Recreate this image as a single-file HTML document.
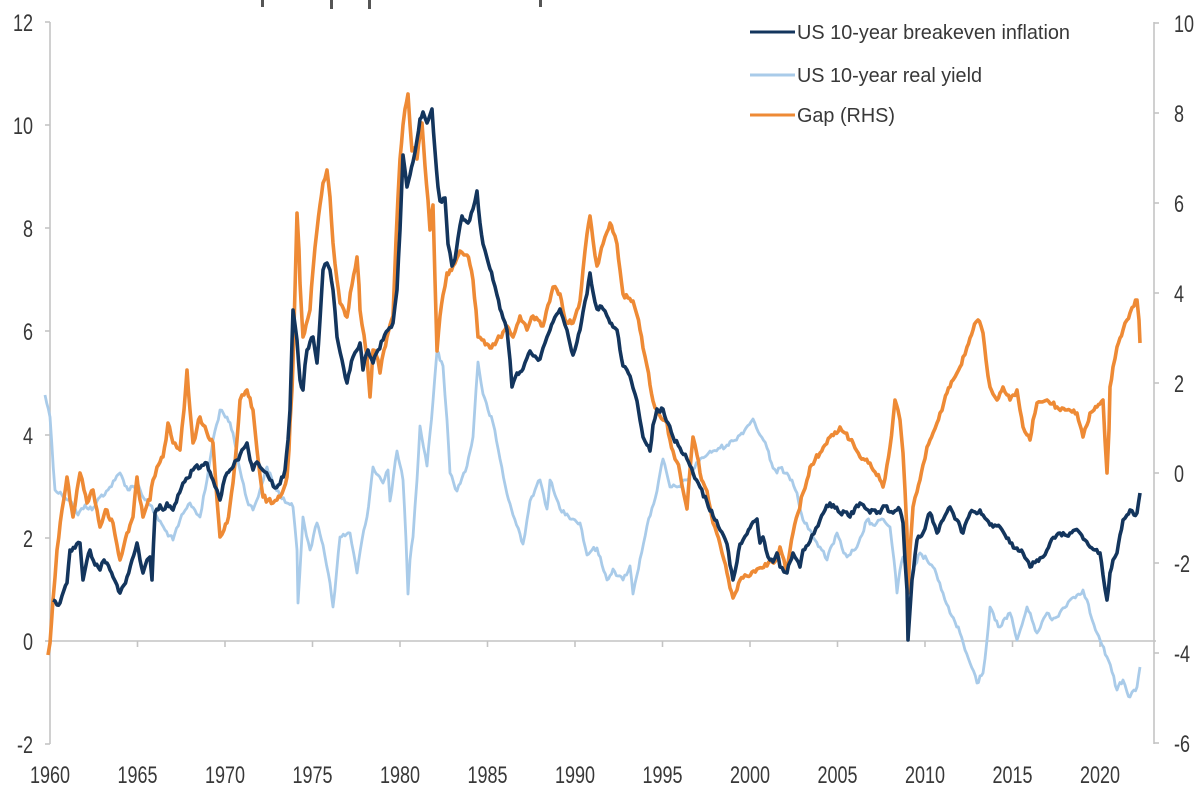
<!DOCTYPE html>
<html>
<head>
<meta charset="utf-8">
<style>
  html,body{margin:0;padding:0;background:#ffffff;}
  svg{display:block;}
  text{font-family:"Liberation Sans",Arial,sans-serif;fill:#383838;}
</style>
</head>
<body>
<svg width="1200" height="800" viewBox="0 0 1200 800" xmlns="http://www.w3.org/2000/svg">
  <rect x="0" y="0" width="1200" height="800" fill="#ffffff"/>

  <!-- cut-off title descenders -->
  <rect x="261" y="0" width="3" height="7" fill="#555"/>
  <rect x="330" y="0" width="3" height="9" fill="#555"/>
  <rect x="368" y="0" width="3" height="9" fill="#555"/>
  <rect x="539" y="0" width="3" height="7" fill="#555"/>

  <!-- axes -->
  <g stroke="#c4c4c4" stroke-width="1.6" fill="none">
    <line x1="50" y1="22" x2="50" y2="744"/>
    <line x1="1154" y1="22" x2="1154" y2="744"/>
    <line x1="50" y1="641" x2="1156" y2="641"/>
    <line x1="45" y1="22" x2="50" y2="22"/>
    <line x1="45" y1="125" x2="50" y2="125"/>
    <line x1="45" y1="228" x2="50" y2="228"/>
    <line x1="45" y1="331" x2="50" y2="331"/>
    <line x1="45" y1="435" x2="50" y2="435"/>
    <line x1="45" y1="538" x2="50" y2="538"/>
    <line x1="45" y1="641" x2="50" y2="641"/>
    <line x1="45" y1="744" x2="50" y2="744"/>
    <line x1="1154" y1="23" x2="1159" y2="23"/>
    <line x1="1154" y1="113" x2="1159" y2="113"/>
    <line x1="1154" y1="203" x2="1159" y2="203"/>
    <line x1="1154" y1="293" x2="1159" y2="293"/>
    <line x1="1154" y1="383" x2="1159" y2="383"/>
    <line x1="1154" y1="473" x2="1159" y2="473"/>
    <line x1="1154" y1="563" x2="1159" y2="563"/>
    <line x1="1154" y1="653" x2="1159" y2="653"/>
    <line x1="1154" y1="743" x2="1159" y2="743"/>
    <line x1="137.5" y1="641" x2="137.5" y2="647"/>
    <line x1="225" y1="641" x2="225" y2="647"/>
    <line x1="312.5" y1="641" x2="312.5" y2="647"/>
    <line x1="400" y1="641" x2="400" y2="647"/>
    <line x1="487.5" y1="641" x2="487.5" y2="647"/>
    <line x1="575" y1="641" x2="575" y2="647"/>
    <line x1="662.5" y1="641" x2="662.5" y2="647"/>
    <line x1="750" y1="641" x2="750" y2="647"/>
    <line x1="837.5" y1="641" x2="837.5" y2="647"/>
    <line x1="925" y1="641" x2="925" y2="647"/>
    <line x1="1012.5" y1="641" x2="1012.5" y2="647"/>
    <line x1="1100" y1="641" x2="1100" y2="647"/>
  </g>

  <!-- left labels -->
  <g font-size="24" text-anchor="end">
    <text transform="translate(33,31) scale(0.75,1)">12</text>
    <text transform="translate(33,134) scale(0.75,1)">10</text>
    <text transform="translate(33,237) scale(0.75,1)">8</text>
    <text transform="translate(33,340) scale(0.75,1)">6</text>
    <text transform="translate(33,444) scale(0.75,1)">4</text>
    <text transform="translate(33,547) scale(0.75,1)">2</text>
    <text transform="translate(33,650) scale(0.75,1)">0</text>
    <text transform="translate(33,753) scale(0.75,1)">-2</text>
  </g>

  <!-- right labels -->
  <g font-size="24" text-anchor="start">
    <text transform="translate(1174,32) scale(0.75,1)">10</text>
    <text transform="translate(1174,122) scale(0.75,1)">8</text>
    <text transform="translate(1174,212) scale(0.75,1)">6</text>
    <text transform="translate(1174,302) scale(0.75,1)">4</text>
    <text transform="translate(1174,392) scale(0.75,1)">2</text>
    <text transform="translate(1174,482) scale(0.75,1)">0</text>
    <text transform="translate(1174,572) scale(0.75,1)">-2</text>
    <text transform="translate(1174,662) scale(0.75,1)">-4</text>
    <text transform="translate(1174,752) scale(0.75,1)">-6</text>
  </g>

  <!-- x labels -->
  <g font-size="24" text-anchor="middle">
    <text transform="translate(50,783) scale(0.75,1)">1960</text>
    <text transform="translate(137.5,783) scale(0.75,1)">1965</text>
    <text transform="translate(225,783) scale(0.75,1)">1970</text>
    <text transform="translate(312.5,783) scale(0.75,1)">1975</text>
    <text transform="translate(400,783) scale(0.75,1)">1980</text>
    <text transform="translate(487.5,783) scale(0.75,1)">1985</text>
    <text transform="translate(575,783) scale(0.75,1)">1990</text>
    <text transform="translate(662.5,783) scale(0.75,1)">1995</text>
    <text transform="translate(750,783) scale(0.75,1)">2000</text>
    <text transform="translate(837.5,783) scale(0.75,1)">2005</text>
    <text transform="translate(925,783) scale(0.75,1)">2010</text>
    <text transform="translate(1012.5,783) scale(0.75,1)">2015</text>
    <text transform="translate(1100,783) scale(0.75,1)">2020</text>
  </g>

  <!-- real yield (light blue) -->
  <polyline id="sLight" fill="none" stroke="#a9cbe9" stroke-width="2.8" stroke-linejoin="round" points="
45,395 50,417 55,490 62,495 70,500 78,515 85,505 92,510 100,497 108,490 115,480 120,473 128,490 137,483 145,500 150,505 157,517 165,530 173,540 180,520 190,503 200,517 207,480 213,440 220,410 227,417 233,433 240,470 247,500 253,510 260,490 267,467 273,483 280,495 287,503 293,507 297,550 298,603 303,517 310,550 317,523 323,545 330,583 333,607 340,537 350,533 357,573 362,540 367,517 373,467 378,475 383,483 388,470 390,501 397,451 403,480 406,540 408,594 410,560 413,537 417,480 420,426 427,466 433,401 437,351 443,366 447,420 450,473 457,491 462,478 467,466 473,437 476,390 478,362 483,394 488,410 493,423 500,459 507,494 513,515 520,534 523,544 527,520 530,501 535,490 540,480 547,509 550,480 555,495 560,509 567,514 573,519 580,523 587,555 592,550 597,548 602,565 607,580 613,569 618,576 623,580 630,566 633,594 637,575 640,559 647,526 652,508 657,491 663,459 670,487 677,487 687,480 693,470 700,459 707,455 713,451 720,448 727,445 733,441 740,435 746,428 753,419 760,435 767,448 773,468 777,473 780,468 787,473 792,480 797,493 803,520 810,530 815,540 820,547 827,560 832,545 837,533 842,548 847,557 852,550 857,547 862,535 867,520 873,525 880,520 885,522 890,527 894,560 897,593 900,570 903,557 907,575 910,580 915,565 920,553 927,560 933,567 938,580 943,593 950,613 955,622 960,633 965,650 970,663 977,683 983,673 987,640 990,607 995,620 1000,627 1005,618 1010,613 1017,640 1022,625 1027,607 1032,620 1037,633 1042,622 1047,613 1052,620 1057,617 1063,608 1070,600 1077,595 1083,590 1087,600 1090,613 1094,625 1097,633 1102,645 1107,657 1112,672 1117,690 1123,680 1127,692 1130,697 1134,690 1137,687 1140,667"/>

  <!-- gap (orange) -->
  <polyline id="sOrange" fill="none" stroke="#ee8a35" stroke-width="3.6" stroke-linejoin="round" points="
48,655 50,643 53,600 57,550 62,510 67,477 70,500 73,517 77,490 80,473 84,490 87,503 90,495 93,490 97,510 100,527 104,515 107,510 110,520 113,523 117,545 120,560 124,545 127,533 130,525 133,517 135,495 137,477 140,500 143,517 147,505 150,500 153,480 157,467 160,462 163,457 166,440 168,423 171,435 173,443 177,448 180,450 184,410 187,370 190,410 193,443 197,428 200,417 203,425 207,433 210,440 213,443 217,500 220,537 224,530 227,523 230,505 233,483 237,440 240,400 244,395 247,390 250,398 253,410 255,430 257,450 260,475 263,497 268,500 273,503 277,500 280,497 284,488 287,477 289,450 290,423 292,390 293,363 295,290 297,213 299,250 300,283 302,320 303,337 306,325 310,310 313,270 317,230 320,205 323,183 327,170 330,197 333,243 337,280 340,303 344,310 347,317 352,285 357,257 359,285 360,310 364,335 367,357 370,397 373,350 378,360 380,373 384,350 387,337 390,325 393,316 396,240 400,159 403,125 405,109 408,94 410,125 412,151 415,150 417,159 420,135 422,123 425,166 428,200 430,230 433,205 435,280 437,351 440,316 443,295 447,273 450,270 453,266 457,258 460,251 464,255 467,255 470,265 473,280 476,310 478,337 482,340 487,344 490,348 493,344 497,340 500,337 503,332 507,326 510,332 513,337 517,325 520,316 523,322 527,330 530,322 533,316 538,320 543,326 548,305 553,287 557,290 560,294 563,310 567,323 570,320 573,323 577,310 580,301 583,270 587,234 590,216 593,240 597,266 600,255 603,244 607,232 610,223 613,232 617,244 620,270 623,294 628,298 633,301 637,315 640,330 643,348 647,366 650,385 653,401 657,410 660,416 663,420 667,423 670,440 673,451 677,462 680,473 684,495 687,509 690,470 693,437 697,455 700,473 703,482 707,491 710,507 713,523 717,534 720,544 724,560 727,573 730,588 733,598 737,590 740,580 743,578 747,576 752,572 757,569 762,568 767,566 772,562 777,559 780,547 784,560 787,570 790,550 793,533 798,513 803,493 807,480 810,467 815,460 820,453 825,445 830,437 835,432 840,427 845,433 850,440 855,448 860,457 865,460 870,463 875,472 880,480 883,487 887,465 890,447 893,420 895,400 898,410 900,420 903,453 905,490 907,533 908,593 910,550 913,507 917,492 920,480 923,465 927,447 930,440 933,433 937,423 940,413 944,402 947,393 950,387 953,380 957,373 960,367 963,357 967,347 970,338 973,330 976,322 978,320 981,326 983,333 986,360 990,387 993,394 997,400 1000,393 1003,387 1007,395 1010,400 1013,395 1017,390 1020,410 1023,427 1027,435 1030,440 1033,420 1037,403 1042,402 1047,400 1052,404 1057,407 1062,408 1067,410 1072,412 1077,413 1080,425 1083,437 1087,425 1090,413 1094,410 1097,407 1100,404 1103,400 1105,440 1107,473 1109,430 1110,387 1113,367 1117,347 1120,338 1123,330 1127,320 1130,313 1134,306 1137,300 1139,320 1140,343"/>

  <!-- breakeven (dark navy) -->
  <polyline id="sDark" fill="none" stroke="#13355d" stroke-width="3.6" stroke-linejoin="round" points="
53,600 57,605 60,603 64,590 67,583 70,550 75,548 80,543 83,580 87,560 90,550 95,565 100,570 104,560 107,563 110,570 113,577 117,585 120,593 124,585 127,577 132,560 137,543 140,560 143,573 147,560 150,557 152,580 155,513 160,505 163,510 167,503 170,506 173,510 178,495 183,483 188,478 193,470 197,465 200,468 207,463 210,472 213,480 217,490 220,500 223,485 227,473 230,470 233,467 237,460 240,455 244,448 247,443 250,460 253,470 257,462 260,467 265,472 270,480 275,488 280,484 285,470 288,440 290,410 293,310 297,340 300,380 303,390 305,365 307,350 310,342 313,337 317,363 320,320 323,270 327,263 330,270 333,290 337,337 342,360 347,383 350,370 353,357 357,350 360,343 363,370 366,355 368,350 373,363 378,350 383,340 388,330 393,323 397,290 400,230 403,155 407,187 410,175 413,162 417,140 420,119 423,112 427,123 430,115 432,109 435,151 438,187 440,201 445,198 448,244 452,266 455,259 458,238 462,216 465,220 468,223 473,209 477,191 480,223 483,244 487,258 490,269 493,280 497,295 500,309 503,318 507,330 510,360 512,387 515,378 517,373 520,372 523,369 527,358 530,351 535,356 540,359 543,348 547,337 553,322 560,309 563,318 567,330 573,355 577,342 580,330 583,312 587,294 590,273 593,292 597,309 600,306 603,309 607,316 610,323 613,327 617,330 620,350 623,366 627,370 630,376 633,388 637,401 640,420 643,437 647,445 650,451 653,425 657,409 660,412 663,409 668,423 673,437 680,448 687,459 693,473 700,487 707,502 713,516 720,530 727,544 730,565 733,580 737,562 740,544 743,540 747,534 750,528 753,522 757,519 760,543 763,537 766,550 770,560 773,562 777,553 780,567 784,572 787,573 790,562 793,553 797,560 800,567 803,550 808,545 812,535 816,528 820,520 825,510 830,503 835,508 840,513 845,512 850,517 855,508 860,503 865,508 870,513 875,510 880,513 885,506 890,512 893,513 897,510 900,510 903,523 905,560 907,590 908,640 910,610 912,580 915,555 917,540 920,537 923,533 927,520 930,513 933,522 937,533 940,525 943,520 947,512 950,507 953,513 957,520 960,526 963,533 967,520 970,513 975,512 980,510 983,515 987,520 990,525 993,527 997,526 1000,527 1005,535 1010,543 1017,548 1023,553 1027,560 1030,567 1033,562 1037,560 1040,558 1043,557 1047,550 1050,543 1055,538 1060,533 1065,535 1070,533 1075,530 1080,533 1085,540 1090,547 1095,550 1100,553 1103,575 1107,600 1110,573 1113,560 1117,553 1120,535 1123,520 1127,515 1130,510 1134,515 1137,513 1140,493"/>

  <!-- legend -->
  <line x1="750" y1="32" x2="795" y2="32" stroke="#13355d" stroke-width="3"/>
  <line x1="750" y1="75" x2="795" y2="75" stroke="#a9cbe9" stroke-width="3"/>
  <line x1="750" y1="115" x2="795" y2="115" stroke="#ee8a35" stroke-width="3"/>
  <g font-size="20">
    <text x="797" y="39" textLength="273" lengthAdjust="spacingAndGlyphs">US 10-year breakeven inflation</text>
    <text x="797" y="82" textLength="185" lengthAdjust="spacingAndGlyphs">US 10-year real yield</text>
    <text x="797" y="122" textLength="98" lengthAdjust="spacingAndGlyphs">Gap (RHS)</text>
  </g>
</svg>
<script>
(function(){
  function roughen(id, amp, seed){
    var el = document.getElementById(id);
    if(!el) return;
    var raw = el.getAttribute('points').trim().split(/\s+/);
    var pts = raw.map(function(p){var a=p.split(',');return [parseFloat(a[0]),parseFloat(a[1])];});
    var s = seed;
    function rnd(){ s = (s*1103515245 + 12345) % 2147483648; return s/2147483648; }
    var out = [];
    for(var i=0;i<pts.length-1;i++){
      var a=pts[i], b=pts[i+1];
      out.push(a[0].toFixed(1)+','+a[1].toFixed(1));
      var dx=b[0]-a[0];
      var n=Math.max(0,Math.floor(dx/1.5)-1);
      for(var k=1;k<=n;k++){
        var t=k/(n+1);
        var x=a[0]+dx*t, y=a[1]+(b[1]-a[1])*t;
        y += (rnd()-0.5)*2*amp;
        out.push(x.toFixed(1)+','+y.toFixed(1));
      }
    }
    var l=pts[pts.length-1];
    out.push(l[0].toFixed(1)+','+l[1].toFixed(1));
    el.setAttribute('points', out.join(' '));
  }
  roughen('sLight', 2.5, 12345);
  roughen('sOrange', 3, 6789);
  roughen('sDark', 2.5, 24680);
})();
</script>
</body>
</html>
